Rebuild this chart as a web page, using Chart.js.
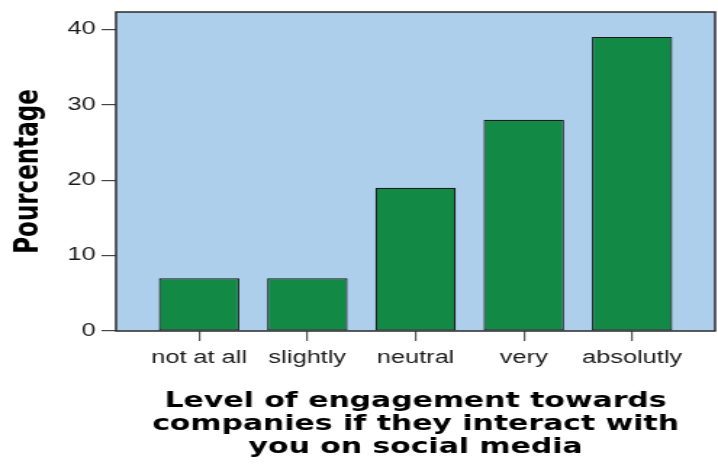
<!DOCTYPE html>
<html>
<head>
<meta charset="utf-8">
<script src="https://cdn.jsdelivr.net/npm/chart.js@4.4.1/dist/chart.umd.min.js"></script>
<style>
  html, body { margin: 0; padding: 0; background: #ffffff; overflow: hidden; }
  /* the chart is laid out narrow and widened horizontally, like the exported graph */
  #wrap { width: 495px; height: 466px; transform: scaleX(1.4505); transform-origin: 0 0; }
  canvas { display: block; }
</style>
</head>
<body>
<div id="wrap"><canvas id="chart" width="495" height="466"></canvas></div>
<script>
// Engagement levels and their share of respondents (%)
const categories = ['not at all', 'slightly', 'neutral', 'very', 'absolutly'];
const percentages = [7, 7, 19, 28, 39];
const yTickValues = [0, 10, 20, 30, 40];
const yAxisTitle = 'Pourcentage';
const xAxisTitle = ['Level of engagement towards', 'companies if they interact with', 'you on social media'];

// Light blue plot background and dark frame around the plot area
const plotFrame = {
  id: 'plotFrame',
  beforeDraw(chart) {
    const { ctx, chartArea: a } = chart;
    ctx.save();
    ctx.fillStyle = '#aecfec';
    ctx.fillRect(a.left, a.top, a.right - a.left, a.bottom - a.top);
    ctx.restore();
  },
  afterDatasetsDraw(chart) {
    const { ctx, chartArea: a } = chart;
    ctx.save();
    ctx.strokeStyle = '#2b2b2b';
    ctx.lineWidth = 1.5;
    ctx.strokeRect(a.left, a.top, a.right - a.left, a.bottom - a.top);
    ctx.restore();
  }
};

const tickFont = { family: "'Liberation Sans', Arial, sans-serif", size: 17.5 };

new Chart(document.getElementById('chart'), {
  type: 'bar',
  data: {
    datasets: [{
      data: categories.map((c, i) => ({ x: i, y: percentages[i] })),
      backgroundColor: '#128a46',
      borderColor: '#1c1c1c',
      borderWidth: 1.2,
      borderSkipped: false,
      barPercentage: 0.743,
      categoryPercentage: 1
    }]
  },
  options: {
    responsive: false,
    animation: false,
    devicePixelRatio: 1,
    layout: { padding: { top: 12, right: 2, bottom: 0, left: 0 } },
    plugins: { legend: { display: false }, tooltip: { enabled: false } },
    scales: {
      x: {
        type: 'linear',
        offset: false,
        min: -0.767,
        max: 4.767,
        afterBuildTicks: s => { s.ticks = categories.map((c, i) => ({ value: i })); },
        afterFit: s => { s.height = 135; },
        border: { display: false },
        grid: { offset: false, drawOnChartArea: false, drawTicks: true, tickLength: 10, color: '#555555', lineWidth: 1.2 },
        ticks: {
          autoSkip: false, maxRotation: 0, padding: 6.5, color: '#1a1a1a', font: tickFont,
          callback: v => categories[v] ?? ''
        },
        title: {
          display: true, text: xAxisTitle, color: '#000000',
          font: { family: "'DejaVu Sans', Verdana, sans-serif", weight: 'bold', size: 20.6, lineHeight: 1.12 },
          padding: { top: 0, bottom: 7 }
        }
      },
      y: {
        min: 0,
        max: 42.3,
        afterBuildTicks: s => { s.ticks = yTickValues.map(v => ({ value: v })); },
        afterFit: s => { s.width = 80; s.paddingTop = 0; s.paddingBottom = 0; },
        border: { display: false },
        grid: { drawOnChartArea: false, drawTicks: true, tickLength: 10, color: '#444444', lineWidth: 1.2 },
        ticks: { padding: 4, color: '#1a1a1a', font: { ...tickFont, lineHeight: 1 } },
        title: {
          display: true, text: yAxisTitle, color: '#000000',
          font: { family: "'DejaVu Sans', Verdana, sans-serif", weight: 'bold', size: 23 },
          padding: { top: 6, bottom: 0 }
        }
      }
    }
  },
  plugins: [plotFrame]
});
</script>
</body>
</html>
